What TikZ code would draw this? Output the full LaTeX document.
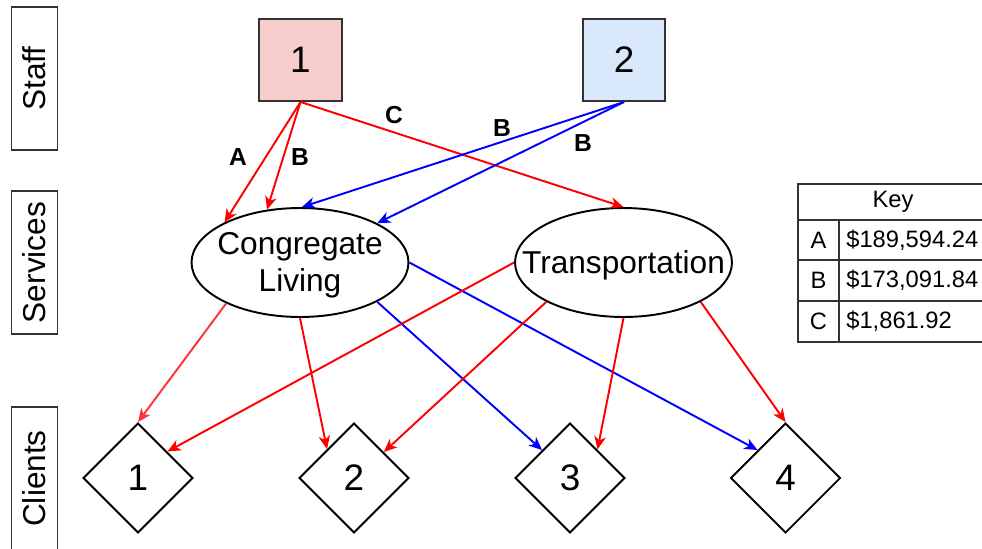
\documentclass[tikz,border=0pt]{standalone}
\usepackage{fontspec}
\setmainfont{Liberation Sans}
\usetikzlibrary{shapes.geometric,arrows.meta,calc}
\definecolor{staffpink}{HTML}{F8CECC}
\definecolor{staffblue}{HTML}{DAE8FC}
\definecolor{edgered}{HTML}{FF0000}
\definecolor{edgeblue}{HTML}{0000FF}
\definecolor{softred}{HTML}{FF3333}
\definecolor{frame}{HTML}{333333}

\begin{document}
\begin{tikzpicture}[x=0.02cm,y=-0.02cm,
  rowlabel/.style={draw=frame,line width=1.1pt,rotate=90,minimum width=2.86cm,minimum height=0.92cm,inner sep=0pt,font=\fontsize{18}{20}\selectfont},
  staffbox/.style={draw=frame,line width=1.1pt,minimum width=1.65cm,minimum height=1.64cm,inner sep=0pt,font=\fontsize{21}{24}\selectfont},
  service/.style={ellipse,draw=black,line width=1.1pt,minimum width=4.34cm,minimum height=2.18cm,inner sep=0pt},
  servicetext/.style={align=center,inner sep=0pt,font=\fontsize{18}{21}\selectfont},
  client/.style={diamond,aspect=1,draw=black,line width=1.1pt,minimum width=2.2cm,minimum height=2.2cm,inner sep=0pt,font=\fontsize{21}{24}\selectfont},
  link/.style={line width=1.1pt,-{Stealth[length=7.5pt,width=6.5pt,inset=2.2pt]}},
  cost/.style={font=\bfseries\fontsize{14}{16}\selectfont,inner sep=0pt},
  keytext/.style={font=\fontsize{13.5}{16}\selectfont,inner sep=0pt},
  keyrule/.style={draw=frame,line width=0.9pt}
]
\useasboundingbox (0,0) rectangle (982,548);
\clip (0,0) rectangle (982,548);

% row captions
\node[rowlabel] (rstaff) at (34.5,78.5) {Staff};
\node[rowlabel] (rserv) at (34.5,262.5) {Services};
\node[rowlabel] (rclient) at (34.5,478.5) {Clients};

% staff
\node[staffbox,fill=staffpink] (s1) at (300.5,60) {1};
\node[staffbox,fill=staffblue] (s2) at (624,60) {2};

% services: outline and caption
\node[service] (cl) at (300,262.5) {};
\node[servicetext] (cltext) at ([yshift=-1.5pt]cl.center) {Congregate\\Living};
\node[service] (tr) at (623.5,262.5) {};
\node[servicetext] (trtext) at ([yshift=-1.5pt]tr.center) {Transportation};

% clients
\node[client] (c1) at (138,478) {1};
\node[client] (c2) at (354,478) {2};
\node[client] (c3) at (570,478) {3};
\node[client] (c4) at (785.5,478) {4};

% staff to services
\draw[link,edgered] (s1.south) -- (cl.152);
\draw[link,edgered] (s1.south) -- (cl.122);
\draw[link,edgered] (s1.south) -- (tr.north);
\draw[link,edgeblue] (s2.south) -- (cl.88);
\draw[link,edgeblue] (s2.south) -- (cl.27);

% services to clients
\draw[link,softred] (cl.209) -- (c1.north);
\draw[link,edgered] (cl.south) -- (c2.133);
\draw[link,edgeblue] (cl.333) -- (c3.135);
\draw[link,edgeblue] (cl.east) -- (c4.135);
\draw[link,edgered] (tr.west) -- (c1.42);
\draw[link,edgered] (tr.207) -- (c2.41);
\draw[link,edgered] (tr.south) -- (c3.46);
\draw[link,edgered] (tr.333) -- (c4.north);

% cost labels
\node[cost] (la) at (238,157) {A};
\node[cost] (lb1) at (300,157) {B};
\node[cost] (lc) at (394,115) {C};
\node[cost] (lb2) at (502,128) {B};
\node[cost] (lb3) at (583,143) {B};

% key table
\draw[draw=frame,line width=1.6pt] (798,184) rectangle (988,342);
\draw[keyrule] (798,220) -- (988,220);
\draw[keyrule] (798,260) -- (988,260);
\draw[keyrule] (798,301) -- (988,301);
\draw[keyrule] (839,220) -- (839,342);
\node[keytext] (khead) at (893,202) {Key};
\node[keytext] (ka) at (818.5,240) {A};
\node[keytext] (kb) at (818.5,280.5) {B};
\node[keytext] (kc) at (818.5,321.5) {C};
\node[keytext,anchor=west] (kav) at (846,240) {\$189,594.24};
\node[keytext,anchor=west] (kbv) at (846,280.5) {\$173,091.84};
\node[keytext,anchor=west] (kcv) at (846,321.5) {\$1,861.92};
\end{tikzpicture}
\end{document}
